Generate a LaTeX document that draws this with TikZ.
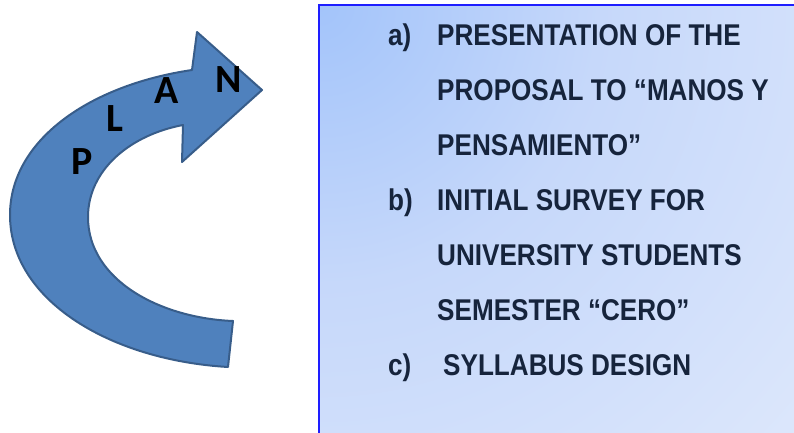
\documentclass[tikz,border=0pt]{standalone}
\usepackage{fontspec}
\setmainfont{Liberation Sans}
\newfontfamily\listfont[FakeStretch=0.87,BoldFeatures={FakeStretch=0.87}]{Liberation Sans}
\newfontfamily\arrowfont{Carlito}
\definecolor{arrowfill}{RGB}{79,129,189}
\definecolor{arrowedge}{RGB}{56,93,138}
\definecolor{boxedge}{RGB}{30,30,255}
\definecolor{boxglowA}{RGB}{163,196,250}
\definecolor{boxglowB}{RGB}{198,216,250}
\definecolor{boxbase}{RGB}{225,234,252}
\definecolor{listtext}{RGB}{22,36,60}
\pgfdeclareradialshading{boxglow}{\pgfpoint{0bp}{0bp}}{%
  color(0bp)=(boxglowA); color(10bp)=(boxglowB); color(26bp)=(boxbase); color(80bp)=(boxbase)}
\tikzset{
  listitem/.style={anchor=base west, inner sep=0pt, text=listtext,
    font=\listfont\bfseries\fontsize{30}{30}\selectfont},
  planletter/.style={inner sep=0pt, font=\arrowfont\bfseries\fontsize{40}{40}\selectfont}
}
\begin{document}
\begin{tikzpicture}[x=1pt,y=-1pt]
\useasboundingbox (0,0) rectangle (794,432);
% list panel with a glow from its upper left corner
\begin{scope}
  \clip (319,5) rectangle (794,432);
  \fill[boxbase] (319,5) rectangle (794,432);
  \shade[shading=boxglow] (319,5) circle (700);
\end{scope}
\draw[boxedge, line width=2pt] (319,440) -- (319,5) -- (800,5);
% curved arrow
\draw[fill=arrowfill, draw=arrowedge, line width=2pt, line join=round]
  (192,70) .. controls (90,85) and (10,140) .. (10,215)
  .. controls (10,300) and (110,360) .. (228,367)
  -- (233,321)
  .. controls (160,318) and (88,280) .. (88,217)
  .. controls (88,170) and (130,135) .. (183,125)
  -- (182,162) -- (262,90) -- (197,32) -- cycle;
\node[planletter] (p) at (82,162) {P};
\node[planletter] (l) at (115,119) {L};
\node[planletter] (a) at (167,91) {A};
\node[planletter] (n) at (229,80) {N};
% list items
\node[listitem] (la) at (388,45) {a)};
\node[listitem] (l1) at (437,45) {PRESENTATION OF THE};
\node[listitem] (l2) at (437,100) {PROPOSAL TO “MANOS Y};
\node[listitem] (l3) at (437,155) {PENSAMIENTO”};
\node[listitem] (lb) at (388,210) {b)};
\node[listitem] (l4) at (437,210) {INITIAL SURVEY FOR};
\node[listitem] (l5) at (437,265) {UNIVERSITY STUDENTS};
\node[listitem] (l6) at (437,320) {SEMESTER “CERO”};
\node[listitem] (lc) at (388,375) {c)};
\node[listitem] (l7) at (443,375) {SYLLABUS DESIGN};
\end{tikzpicture}
\end{document}
